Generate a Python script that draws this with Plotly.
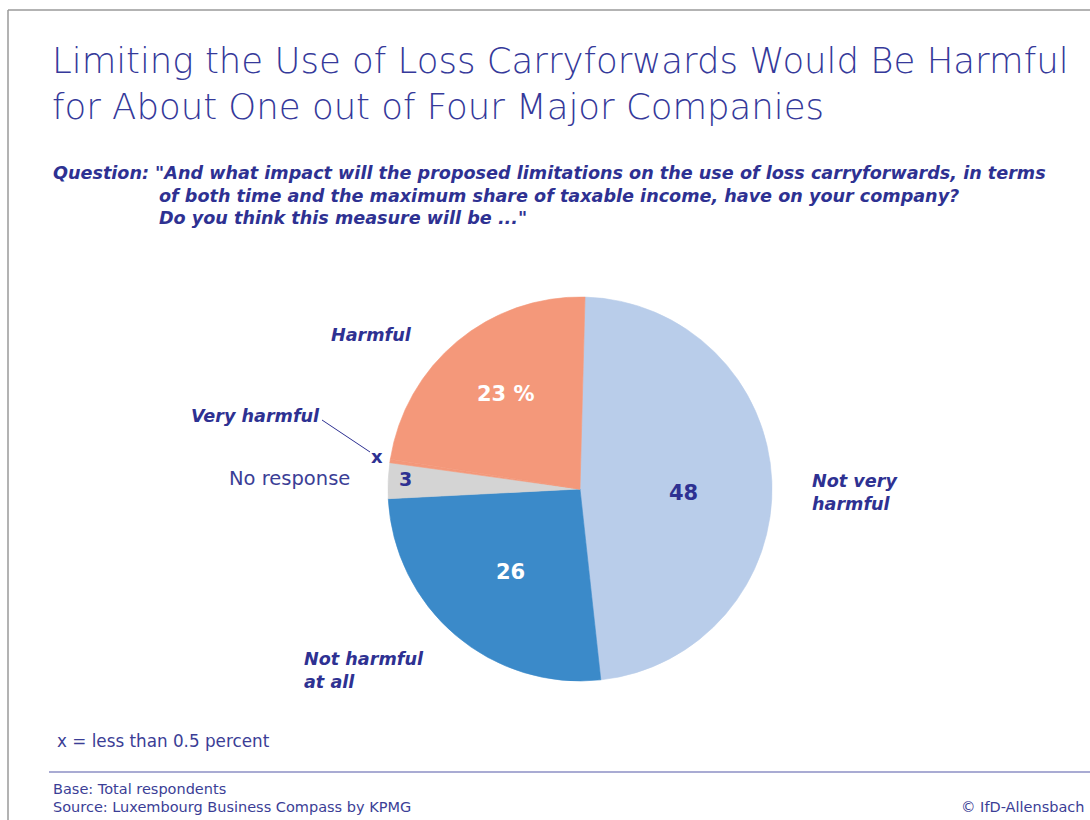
import plotly.graph_objects as go

# ---- data ----
categories = ["Not very harmful", "Not harmful at all", "No response", "Very harmful", "Harmful"]
values = [48, 26, 3, 0.3, 23]          # "Very harmful" = x (< 0.5 percent)
value_labels = ["48", "26", "3", "x", "23 %"]
colors = ["#B9CDEA", "#3B8AC9", "#D4D4D4", "#F4987A", "#F4987A"]

W, H = 1090, 820
NAVY = "#2E3192"
FONT = "DejaVu Sans"


def px(x):
    return x / W


def py(y):
    return 1 - y / H


cx, cy, r = 580, 489, 192

fig = go.Figure()
fig.add_trace(go.Pie(
    labels=categories,
    values=values,
    sort=False,
    direction="clockwise",
    rotation=1.5,
    marker=dict(colors=colors, line=dict(width=0.6, color=colors)),
    textinfo="none",
    hoverinfo="label+value",
    showlegend=False,
    domain=dict(x=[px(cx - r), px(cx + r)], y=[py(cy + r), py(cy - r)]),
))

ann = []


def add_text(text, x, y, size, color=NAVY, bold=False, italic=False, xanchor="left", yanchor="middle", weight=None, align="left"):
    t = text
    if bold:
        t = "<b>" + t + "</b>"
    if italic:
        t = "<i>" + t + "</i>"
    f = dict(family=FONT, size=size, color=color)
    if weight is not None:
        f["weight"] = weight
    ann.append(dict(text=t, x=px(x), y=py(y), xref="paper", yref="paper",
                    xanchor=xanchor, yanchor=yanchor, showarrow=False,
                    font=f, align=align))


# Title
add_text("Limiting the Use of Loss Carryforwards Would Be Harmful", 50, 61, 35.5, color="#35399A", weight=200)
add_text("for About One out of Four Major Companies", 50, 106, 35.5, color="#35399A", weight=200)

# Question
QS = 17.6
add_text("Question: \"And what impact will the proposed limitations on the use of loss carryforwards, in terms",
         51, 173, QS, bold=True, italic=True)
add_text("of both time and the maximum share of taxable income, have on your company?",
         157, 196, QS, bold=True, italic=True)
add_text("Do you think this measure will be ...\"",
         157, 218, QS, bold=True, italic=True)

# Category labels outside
add_text(categories[4], 329, 335, 17.6, bold=True, italic=True)
add_text(categories[3], 189, 416, 17.6, bold=True, italic=True)
add_text(categories[2], 227, 479, 19.5, color="#3B3E96")
add_text("Not very<br>harmful", 810, 492, 17.6, bold=True, italic=True)
add_text("Not harmful<br>at all", 302, 670, 17.6, bold=True, italic=True)

# Values inside slices
add_text(value_labels[0], 683, 493, 21, bold=True, xanchor="center")
add_text(value_labels[1], 510, 572, 21, color="white", bold=True, xanchor="center")
add_text(value_labels[2], 405, 479, 19, bold=True, xanchor="center")
add_text(value_labels[3], 377, 456, 18, bold=True, xanchor="center")
add_text(value_labels[4], 506, 394, 21, color="white", bold=True, xanchor="center")

# Footer
add_text("x = less than 0.5 percent", 55, 741, 16.8, color="#3B3E96")
add_text("Base: Total respondents", 51, 789, 14.5, color="#3B3E96")
add_text("Source: Luxembourg Business Compass by KPMG", 51, 807, 14.5, color="#3B3E96")
add_text("© IfD-Allensbach", 1086, 807, 14.5, color="#3B3E96", xanchor="right")

shapes = [
    # frame
    dict(type="line", xref="paper", yref="paper", x0=px(8), x1=1, y0=py(10), y1=py(10),
         line=dict(color="#9A9A9A", width=1.5)),
    dict(type="line", xref="paper", yref="paper", x0=px(8), x1=px(8), y0=py(10), y1=0,
         line=dict(color="#9A9A9A", width=1.5)),
    # footer rule
    dict(type="line", xref="paper", yref="paper", x0=px(49), x1=1, y0=py(772), y1=py(772),
         line=dict(color="#5558A8", width=1.2)),
    # leader line for "Very harmful"
    dict(type="line", xref="paper", yref="paper", x0=px(322), x1=px(370), y0=py(420), y1=py(452),
         line=dict(color=NAVY, width=1)),
]

fig.update_layout(
    width=W, height=H,
    margin=dict(l=0, r=0, t=0, b=0),
    paper_bgcolor="white",
    plot_bgcolor="white",
    annotations=ann,
    shapes=shapes,
    font=dict(family=FONT),
)

fig.write_html("out.html")
